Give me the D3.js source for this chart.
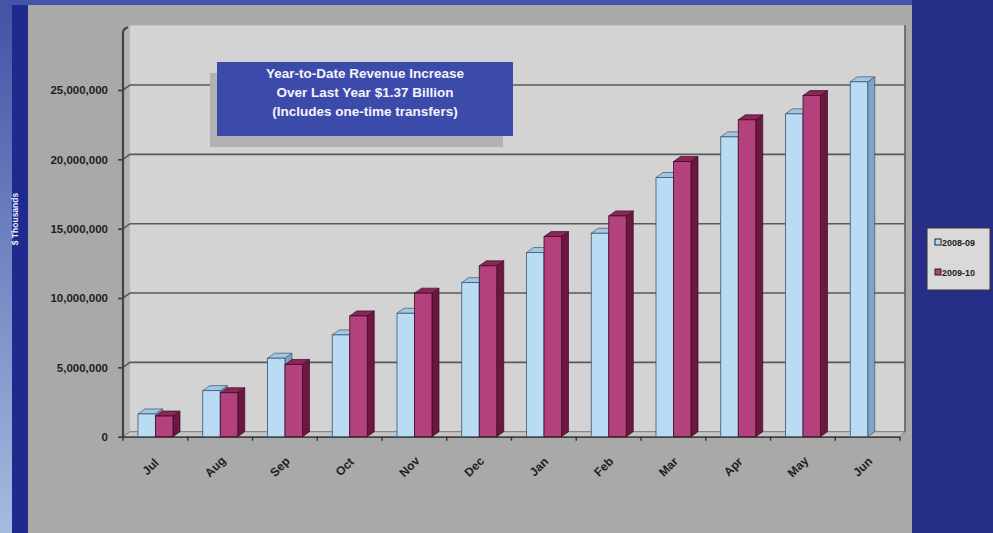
<!DOCTYPE html>
<html>
<head>
<meta charset="utf-8">
<script src="https://cdn.jsdelivr.net/npm/d3@7"></script>
<style>
  html, body { margin: 0; padding: 0; background: #2a3290; }
  svg { display: block; font-family: "Liberation Sans", Arial, sans-serif; }
</style>
</head>
<body>
<div id="chart"></div>
<script>
// revenue, $ thousands, cumulative by month
const months = ['Jul', 'Aug', 'Sep', 'Oct', 'Nov', 'Dec', 'Jan', 'Feb', 'Mar', 'Apr', 'May', 'Jun'];
const fy0809 = [1640, 3320, 5660, 7340, 8900, 11110, 13280, 14670, 18690, 21620, 23280, 25590].map(v => v * 1000);
const fy0910 = [1490, 3170, 5210, 8710, 10350, 12320, 14430, 15920, 19840, 22850, 24600, null].map(v => v === null ? null : v * 1000);
const seriesNames = ['2008-09', '2009-10'];
const yTicks = [0, 5e6, 10e6, 15e6, 20e6, 25e6];
const noteLines = ['Year-to-Date Revenue Increase', 'Over Last Year $1.37 Billion', '(Includes one-time transfers)'];

const W = 993, H = 533;
const DX = 7, DY = -5;   // 3d depth offset

const svg = d3.select('#chart').append('svg')
  .attr('width', W).attr('height', H);

const defs = svg.append('defs');
const lg = defs.append('linearGradient').attr('id', 'leftGrad')
  .attr('x1', 0).attr('y1', 0).attr('x2', 0).attr('y2', 1);
lg.append('stop').attr('offset', '0%').attr('stop-color', '#4252a6');
lg.append('stop').attr('offset', '100%').attr('stop-color', '#a4bce0');

// page background pieces
svg.append('rect').attr('x', 0).attr('y', 0).attr('width', W).attr('height', H).attr('fill', '#262e88');
svg.append('rect').attr('x', 0).attr('y', 0).attr('width', 12).attr('height', H).attr('fill', 'url(#leftGrad)');
svg.append('rect').attr('x', 0).attr('y', 0).attr('width', 912).attr('height', 5).attr('fill', '#4454a6');
svg.append('rect').attr('x', 12).attr('y', 5).attr('width', 16).attr('height', H - 5).attr('fill', '#1f2a8e');
svg.append('rect').attr('x', 28).attr('y', 5).attr('width', 884).attr('height', H - 5).attr('fill', '#a9a9a9');

svg.append('text')
  .attr('transform', 'translate(18,219) rotate(-90)')
  .attr('text-anchor', 'middle')
  .attr('font-size', 8.5).attr('font-weight', 'bold')
  .attr('fill', '#f0f0ff')
  .text('$ Thousands');

// scales
const y = d3.scaleLinear().domain([0, 25e6]).range([436.7, 90]);
const x = d3.scaleBand().domain(months).range([123, 900]).paddingInner(0).paddingOuter(0);
const yTop = y(29.3e6);
const x0 = 123, x1 = 900;

// left side wall
svg.append('path')
  .attr('d', `M${x0},${y(0)} L${x0},${yTop} L${x0 + DX},${yTop + DY} L${x0 + DX},${y(0) + DY} Z`)
  .attr('fill', '#b4b4b4');

// back wall
svg.append('rect')
  .attr('x', x0 + DX).attr('y', yTop + DY)
  .attr('width', x1 - x0 + 5 - DX).attr('height', y(0) - yTop)
  .attr('fill', '#d3d3d3');
svg.append('line')
  .attr('x1', x1 + 5).attr('x2', x1 + 5).attr('y1', yTop + DY).attr('y2', y(0) + DY)
  .attr('stroke', '#555').attr('stroke-width', 1.5);

// gridlines
const grid = svg.append('g');
yTicks.filter(d => d > 0).forEach(v => {
  grid.append('path')
    .attr('d', `M${x0},${y(v)} L${x0 + DX},${y(v) + DY} L${x1 + 5},${y(v) + DY}`)
    .attr('fill', 'none').attr('stroke', '#5a5a5a').attr('stroke-width', 1.6);
});

// floor
svg.append('path')
  .attr('d', `M${x0},${y(0)} L${x0 + DX},${y(0) + DY} L${x1 + 5},${y(0) + DY} L${x1},${y(0)} Z`)
  .attr('fill', '#c6c6c6').attr('stroke', '#666').attr('stroke-width', 0.8);

// y axis
const yAxis = d3.axisLeft(y).tickValues(yTicks).tickSize(5).tickPadding(10)
  .tickFormat(d3.format(','));
const ya = svg.append('g').attr('transform', `translate(${x0},0)`).call(yAxis);
ya.select('.domain').remove();
ya.selectAll('line').attr('stroke', '#333').attr('stroke-width', 1.5);
ya.selectAll('text').attr('font-size', 11.5).attr('font-weight', 'bold').attr('fill', '#1e1e1e')
  .attr('font-family', '"Liberation Sans", Arial, sans-serif');
svg.append('path')
  .attr('d', `M${x0},${y(0) + 1} L${x0},${yTop + 3} Q${x0},${yTop - 2} ${x0 + 5},${yTop - 3}`)
  .attr('fill', 'none').attr('stroke', '#444').attr('stroke-width', 2.2);

// x axis
const xa = svg.append('g').attr('transform', `translate(0,${y(0)})`);
xa.append('line').attr('x1', x0).attr('x2', x1).attr('y1', 0.5).attr('y2', 0.5)
  .attr('stroke', '#444').attr('stroke-width', 1.6);
months.concat(['end']).forEach((m, i) => {
  const xx = x0 + i * x.bandwidth();
  xa.append('line').attr('x1', xx).attr('x2', xx).attr('y1', 0).attr('y2', 4)
    .attr('stroke', '#333').attr('stroke-width', 1.4);
});
xa.selectAll('.mlabel').data(months).enter().append('text')
  .attr('class', 'mlabel')
  .attr('transform', d => `translate(${x(d) + x.bandwidth() / 2 - 5},${30}) rotate(-45)`)
  .attr('text-anchor', 'middle')
  .attr('dy', '0.35em')
  .attr('font-size', 12).attr('font-weight', 'bold').attr('fill', '#1e1e1e')
  .text(d => d);

// bars
const barW = 17.5, offset = 15;
const palette = [
  { front: '#b9dcf4', top: '#a4c6e2', side: '#7fa5c6', edge: '#3a5470' },
  { front: '#b2417c', top: '#8c2558', side: '#6c1642', edge: '#3c0c24' }
];
const barData = [];
months.forEach((m, i) => {
  [fy0809[i], fy0910[i]].forEach((v, s) => {
    if (v !== null) barData.push({ m, v, s });
  });
});
// draw back-to-front so right bars overlap correctly
const bars = svg.append('g').selectAll('g').data(barData).enter().append('g');
bars.each(function (d) {
  const g = d3.select(this);
  const c = palette[d.s];
  const bx = x(d.m) + offset + d.s * barW;
  const bt = y(d.v), bb = y(0);
  g.append('path')
    .attr('d', `M${bx + barW},${bb} L${bx + barW + DX},${bb + DY} L${bx + barW + DX},${bt + DY} L${bx + barW},${bt} Z`)
    .attr('fill', c.side).attr('stroke', c.edge).attr('stroke-width', 0.7);
  g.append('path')
    .attr('d', `M${bx},${bt} L${bx + DX},${bt + DY} L${bx + barW + DX},${bt + DY} L${bx + barW},${bt} Z`)
    .attr('fill', c.top).attr('stroke', c.edge).attr('stroke-width', 0.7);
  g.append('rect')
    .attr('x', bx).attr('y', bt).attr('width', barW).attr('height', bb - bt)
    .attr('fill', c.front).attr('stroke', c.edge).attr('stroke-width', 0.8);
});

// note box
const note = svg.append('g');
note.append('rect').attr('x', 210).attr('y', 73).attr('width', 293).attr('height', 74).attr('fill', '#b2b2b2');
note.append('rect').attr('x', 217).attr('y', 62).attr('width', 296).attr('height', 74).attr('fill', '#3c4ba9');
noteLines.forEach((t, i) => {
  note.append('text')
    .attr('x', 365).attr('y', 78 + i * 19)
    .attr('text-anchor', 'middle')
    .attr('font-size', 13.5).attr('font-weight', 'bold').attr('fill', '#f4f4ff')
    .text(t);
});

// legend
const leg = svg.append('g').attr('transform', 'translate(927,228)');
leg.append('rect').attr('width', 63).attr('height', 62).attr('fill', '#d9d9d9')
  .attr('stroke', '#333').attr('stroke-width', 1);
seriesNames.forEach((n, i) => {
  const gy = 15 + i * 30;
  leg.append('rect').attr('x', 8).attr('y', gy - 4).attr('width', 6).attr('height', 6)
    .attr('fill', palette[i].front).attr('stroke', '#222').attr('stroke-width', 1);
  leg.append('text').attr('x', 15).attr('y', gy + 3)
    .attr('font-size', 9).attr('font-weight', 'bold').attr('fill', '#1e1e1e')
    .text(n);
});
</script>
</body>
</html>
